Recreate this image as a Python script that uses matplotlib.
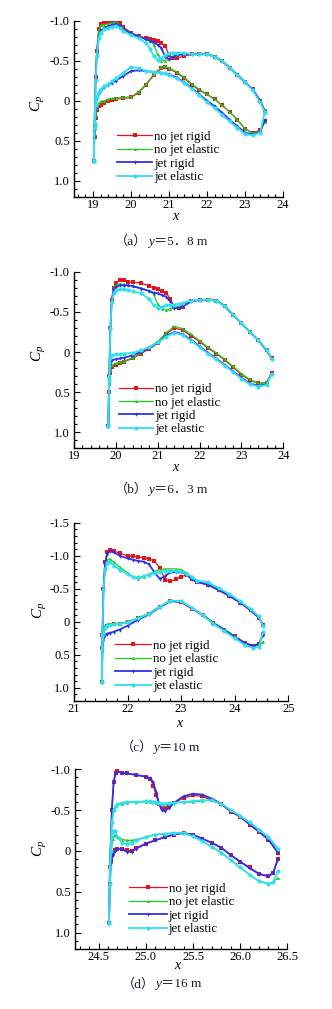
import numpy as np
import matplotlib
matplotlib.use("Agg")
import matplotlib.pyplot as plt
from matplotlib.ticker import MultipleLocator, FuncFormatter

plt.rcParams['font.family'] = ['Liberation Serif', 'Noto Sans CJK SC']
plt.rcParams['mathtext.fontset'] = 'custom'
plt.rcParams['mathtext.it'] = 'Liberation Serif:italic'
plt.rcParams['mathtext.rm'] = 'Liberation Serif'
plt.rcParams['axes.unicode_minus'] = False

names = ["no jet rigid", "no jet elastic", "jet rigid", "jet elastic"]
colors = ["#e3141c", "#1ccc1c", "#3030e8", "#30e0f0"]
markers = ["s", "^", "d", "o"]

# ---- (a) y = 5.8 m ----
xu_a = [19.02, 19.04, 19.07, 19.1, 19.15, 19.2, 19.3, 19.4, 19.5, 19.6, 19.7, 19.8,
        20.0, 20.2, 20.4, 20.5, 20.6, 20.7, 20.8, 20.9, 21.0, 21.1, 21.2, 21.4, 21.6,
        21.8, 22.0, 22.2, 22.4, 22.6, 22.8, 23.0, 23.2, 23.4, 23.52]
cpu_a = [
    [0.76, 0.30, -0.30, -0.62, -0.90, -0.96, -0.97, -0.98, -1.00, -1.00, -0.97, -0.92,
     -0.85, -0.81, -0.78, -0.77, -0.76, -0.74, -0.72, -0.68, -0.57, -0.53, -0.53, -0.56,
     -0.58, -0.58, -0.58, -0.55, -0.49, -0.41, -0.32, -0.23, -0.14, 0.00, 0.13],
    [0.76, 0.30, -0.28, -0.60, -0.88, -0.94, -0.95, -0.96, -0.97, -0.98, -0.95, -0.91,
     -0.84, -0.80, -0.77, -0.75, -0.70, -0.58, -0.50, -0.50, -0.52, -0.55, -0.57, -0.58,
     -0.59, -0.59, -0.59, -0.56, -0.50, -0.42, -0.33, -0.24, -0.14, 0.00, 0.12],
    [0.76, 0.28, -0.28, -0.58, -0.80, -0.87, -0.91, -0.93, -0.95, -0.96, -0.94, -0.90,
     -0.84, -0.80, -0.77, -0.75, -0.73, -0.70, -0.66, -0.55, -0.52, -0.55, -0.57, -0.58,
     -0.58, -0.58, -0.58, -0.55, -0.49, -0.41, -0.32, -0.23, -0.14, 0.00, 0.13],
    [0.76, 0.28, -0.26, -0.56, -0.78, -0.85, -0.89, -0.91, -0.92, -0.93, -0.91, -0.87,
     -0.82, -0.78, -0.72, -0.65, -0.56, -0.51, -0.53, -0.57, -0.59, -0.60, -0.60, -0.60,
     -0.58, -0.58, -0.58, -0.55, -0.49, -0.41, -0.32, -0.23, -0.13, 0.02, 0.14],
]
xl_a = [19.02, 19.04, 19.07, 19.1, 19.15, 19.2, 19.3, 19.4, 19.5, 19.6, 19.8, 20.0,
        20.2, 20.4, 20.6, 20.8, 20.9, 21.0, 21.2, 21.4, 21.6, 21.8, 22.0, 22.2, 22.4,
        22.6, 22.8, 23.0, 23.2, 23.4, 23.52]
cpl_a = [
    [0.76, 0.45, 0.22, 0.12, 0.07, 0.05, 0.03, 0.01, -0.01, -0.02, -0.03, -0.04, -0.10,
     -0.20, -0.32, -0.41, -0.42, -0.40, -0.35, -0.28, -0.20, -0.13, -0.08, -0.02, 0.06,
     0.14, 0.24, 0.35, 0.40, 0.37, 0.25],
    [0.76, 0.42, 0.18, 0.08, 0.03, 0.01, 0.00, -0.02, -0.03, -0.03, -0.04, -0.05, -0.11,
     -0.21, -0.33, -0.42, -0.43, -0.41, -0.36, -0.29, -0.21, -0.14, -0.08, -0.02, 0.06,
     0.14, 0.24, 0.35, 0.41, 0.38, 0.27],
    [0.76, 0.35, 0.08, -0.03, -0.10, -0.13, -0.17, -0.20, -0.22, -0.25, -0.31, -0.37,
     -0.38, -0.37, -0.36, -0.35, -0.34, -0.33, -0.29, -0.23, -0.16, -0.08, 0.00, 0.07,
     0.15, 0.24, 0.32, 0.40, 0.42, 0.39, 0.24],
    [0.76, 0.33, 0.06, -0.04, -0.11, -0.14, -0.18, -0.21, -0.24, -0.28, -0.35, -0.42,
     -0.41, -0.37, -0.36, -0.35, -0.34, -0.32, -0.28, -0.22, -0.15, -0.07, 0.02, 0.09,
     0.18, 0.26, 0.34, 0.42, 0.43, 0.40, 0.14],
]

# ---- (b) y = 6.3 m ----
xu_b = [19.82, 19.84, 19.87, 19.9, 19.95, 20.0, 20.1, 20.2, 20.3, 20.4, 20.6, 20.8,
        20.9, 21.0, 21.1, 21.2, 21.3, 21.4, 21.5, 21.6, 21.8, 22.0, 22.2, 22.4, 22.6,
        22.8, 23.0, 23.2, 23.4, 23.6, 23.72]
cpu_b = [
    [0.92, 0.30, -0.30, -0.65, -0.80, -0.86, -0.90, -0.90, -0.87, -0.87, -0.86, -0.82,
     -0.80, -0.78, -0.76, -0.74, -0.66, -0.56, -0.55, -0.56, -0.63, -0.65, -0.65, -0.64,
     -0.57, -0.46, -0.36, -0.25, -0.15, -0.02, 0.07],
    [0.92, 0.30, -0.30, -0.65, -0.80, -0.83, -0.85, -0.84, -0.83, -0.82, -0.80, -0.76,
     -0.72, -0.60, -0.54, -0.52, -0.54, -0.56, -0.57, -0.59, -0.63, -0.65, -0.66, -0.65,
     -0.58, -0.47, -0.36, -0.25, -0.15, -0.02, 0.08],
    [0.92, 0.30, -0.30, -0.64, -0.78, -0.81, -0.83, -0.83, -0.83, -0.82, -0.79, -0.76,
     -0.74, -0.73, -0.71, -0.69, -0.63, -0.55, -0.55, -0.57, -0.63, -0.65, -0.65, -0.64,
     -0.57, -0.46, -0.36, -0.25, -0.15, -0.02, 0.08],
    [0.92, 0.30, -0.30, -0.62, -0.74, -0.77, -0.78, -0.78, -0.77, -0.76, -0.73, -0.66,
     -0.58, -0.55, -0.56, -0.58, -0.59, -0.59, -0.60, -0.61, -0.64, -0.65, -0.65, -0.64,
     -0.57, -0.46, -0.36, -0.25, -0.15, -0.03, 0.09],
]
xl_b = [19.82, 19.84, 19.87, 19.9, 20.0, 20.1, 20.2, 20.4, 20.6, 20.8, 21.0, 21.2, 21.4,
        21.6, 21.8, 22.0, 22.2, 22.4, 22.6, 22.8, 23.0, 23.2, 23.4, 23.6, 23.72]
cpl_b = [
    [0.92, 0.50, 0.26, 0.19, 0.16, 0.14, 0.12, 0.08, 0.02, -0.04, -0.11, -0.22, -0.30,
     -0.27, -0.20, -0.13, -0.05, 0.02, 0.10, 0.19, 0.28, 0.35, 0.39, 0.38, 0.26],
    [0.92, 0.48, 0.22, 0.16, 0.14, 0.13, 0.11, 0.07, 0.01, -0.06, -0.13, -0.24, -0.32,
     -0.29, -0.22, -0.14, -0.06, 0.01, 0.09, 0.18, 0.27, 0.34, 0.39, 0.38, 0.27],
    [0.92, 0.40, 0.15, 0.10, 0.09, 0.08, 0.07, 0.04, 0.00, -0.05, -0.12, -0.20, -0.25,
     -0.22, -0.15, -0.07, 0.01, 0.08, 0.16, 0.24, 0.32, 0.39, 0.42, 0.40, 0.27],
    [0.92, 0.35, 0.08, 0.04, 0.03, 0.03, 0.02, 0.01, -0.02, -0.06, -0.12, -0.19, -0.24,
     -0.21, -0.14, -0.06, 0.02, 0.09, 0.17, 0.25, 0.33, 0.40, 0.43, 0.41, 0.27],
]

# ---- (c) y = 10 m ----
xu_c = [21.52, 21.53, 21.55, 21.58, 21.62, 21.67, 21.75, 21.85, 22.0, 22.1, 22.2, 22.3,
        22.4, 22.5, 22.6, 22.7, 22.8, 22.9, 23.0, 23.1, 23.2, 23.3, 23.5, 23.7, 23.9,
        24.1, 24.3, 24.45, 24.53]
cpu_c = [
    [0.91, 0.20, -0.50, -0.90, -1.05, -1.09, -1.07, -1.04, -1.00, -0.99, -0.98, -0.97,
     -0.95, -0.92, -0.82, -0.63, -0.61, -0.64, -0.68, -0.71, -0.64, -0.60, -0.56, -0.48,
     -0.39, -0.29, -0.17, -0.06, 0.05],
    [0.91, 0.20, -0.50, -0.85, -0.94, -0.95, -0.90, -0.83, -0.74, -0.68, -0.65, -0.68,
     -0.72, -0.76, -0.79, -0.80, -0.80, -0.80, -0.79, -0.74, -0.66, -0.61, -0.57, -0.49,
     -0.40, -0.30, -0.18, -0.07, 0.06],
    [0.91, 0.20, -0.50, -0.88, -1.03, -1.07, -1.05, -1.00, -0.96, -0.94, -0.92, -0.91,
     -0.87, -0.75, -0.65, -0.69, -0.75, -0.75, -0.75, -0.72, -0.64, -0.60, -0.56, -0.48,
     -0.39, -0.29, -0.17, -0.06, 0.05],
    [0.91, 0.20, -0.48, -0.80, -0.89, -0.90, -0.85, -0.79, -0.72, -0.68, -0.67, -0.69,
     -0.71, -0.74, -0.76, -0.77, -0.77, -0.77, -0.76, -0.73, -0.68, -0.62, -0.60, -0.51,
     -0.42, -0.31, -0.19, -0.08, 0.07],
]
xl_c = [21.52, 21.53, 21.55, 21.58, 21.62, 21.67, 21.75, 21.85, 22.0, 22.2, 22.4, 22.6,
        22.8, 23.0, 23.2, 23.4, 23.6, 23.8, 24.0, 24.2, 24.35, 24.45, 24.53]
cpl_c = [
    [0.91, 0.40, 0.20, 0.10, 0.07, 0.05, 0.04, 0.03, 0.01, -0.05, -0.12, -0.22, -0.31,
     -0.30, -0.20, -0.10, 0.02, 0.12, 0.22, 0.32, 0.37, 0.34, 0.18],
    [0.91, 0.38, 0.15, 0.06, 0.04, 0.03, 0.03, 0.02, 0.00, -0.06, -0.13, -0.23, -0.32,
     -0.31, -0.21, -0.11, 0.01, 0.11, 0.22, 0.32, 0.38, 0.36, 0.30],
    [0.91, 0.45, 0.27, 0.20, 0.18, 0.17, 0.15, 0.12, 0.06, -0.03, -0.11, -0.22, -0.31,
     -0.30, -0.20, -0.10, 0.02, 0.12, 0.23, 0.33, 0.37, 0.33, 0.20],
    [0.91, 0.40, 0.18, 0.09, 0.06, 0.05, 0.04, 0.03, 0.01, -0.05, -0.12, -0.23, -0.32,
     -0.31, -0.21, -0.10, 0.03, 0.14, 0.25, 0.36, 0.40, 0.38, 0.15],
]

# ---- (d) y = 16 m ----
xu_d = [24.61, 24.62, 24.64, 24.66, 24.68, 24.7, 24.75, 24.8, 24.9, 25.0, 25.05, 25.08,
        25.11, 25.14, 25.17, 25.2, 25.25, 25.3, 25.4, 25.5, 25.6, 25.7, 25.8, 25.9, 26.0,
        26.1, 26.2, 26.3, 26.4]
cpu_d = [
    [0.88, 0.20, -0.50, -0.85, -0.96, -0.98, -0.96, -0.95, -0.93, -0.91, -0.88, -0.80,
     -0.68, -0.58, -0.54, -0.53, -0.55, -0.59, -0.65, -0.68, -0.67, -0.62, -0.57, -0.48,
     -0.42, -0.32, -0.23, -0.14, 0.02],
    [0.88, 0.20, -0.35, -0.50, -0.55, -0.56, -0.58, -0.59, -0.60, -0.60, -0.60, -0.60,
     -0.59, -0.58, -0.57, -0.57, -0.58, -0.59, -0.60, -0.60, -0.61, -0.63, -0.58, -0.50,
     -0.43, -0.35, -0.26, -0.17, -0.03],
    [0.88, 0.20, -0.50, -0.85, -0.95, -0.97, -0.96, -0.95, -0.93, -0.91, -0.89, -0.84,
     -0.72, -0.58, -0.50, -0.49, -0.53, -0.59, -0.67, -0.70, -0.69, -0.64, -0.58, -0.49,
     -0.42, -0.33, -0.24, -0.14, 0.02],
    [0.88, 0.20, -0.35, -0.50, -0.55, -0.57, -0.59, -0.60, -0.60, -0.61, -0.61, -0.60,
     -0.60, -0.59, -0.58, -0.58, -0.59, -0.59, -0.60, -0.61, -0.62, -0.62, -0.58, -0.50,
     -0.43, -0.35, -0.26, -0.17, -0.03],
]
xl_d = [24.61, 24.62, 24.63, 24.65, 24.67, 24.7, 24.75, 24.8, 24.85, 24.9, 25.0, 25.1,
        25.2, 25.3, 25.4, 25.5, 25.6, 25.7, 25.8, 25.9, 26.0, 26.1, 26.2, 26.3, 26.35, 26.4]
cpl_d = [
    [0.88, 0.40, 0.12, 0.03, -0.01, -0.03, -0.03, -0.01, 0.00, -0.04, -0.09, -0.13,
     -0.17, -0.20, -0.22, -0.20, -0.15, -0.10, -0.04, 0.05, 0.13, 0.20, 0.28, 0.31,
     0.27, 0.10],
    [0.88, 0.40, 0.05, -0.15, -0.20, -0.18, -0.14, -0.13, -0.13, -0.14, -0.17, -0.20,
     -0.21, -0.22, -0.22, -0.18, -0.12, -0.05, 0.02, 0.11, 0.20, 0.29, 0.37, 0.40,
     0.38, 0.33],
    [0.88, 0.42, 0.15, 0.05, 0.00, -0.03, -0.02, 0.01, 0.01, -0.03, -0.09, -0.13,
     -0.17, -0.20, -0.22, -0.20, -0.15, -0.10, -0.04, 0.05, 0.13, 0.21, 0.28, 0.31,
     0.27, 0.10],
    [0.88, 0.40, 0.00, -0.25, -0.24, -0.17, -0.10, -0.09, -0.10, -0.13, -0.17, -0.20,
     -0.21, -0.22, -0.22, -0.18, -0.12, -0.05, 0.02, 0.11, 0.20, 0.29, 0.37, 0.40,
     0.38, 0.25],
]

W, H = 332, 1009
fig = plt.figure(figsize=(W / 100, H / 100), dpi=100)

# axes boxes in pixels: left, right, top, bottom
panels = [
    dict(box=(74, 283, 20.7, 196.7), xlim=(18.5, 24), ylim=(1.2, -1.0), xmaj=1, xmin=0.2,
         xfmt="%d", up=(xu_a, cpu_a), lo=(xl_a, cpl_a), leg=(0.206, 0.225), hl=2.7,
         cp=(-0.172, 0.532), xl=(0.488, -0.11), cap=("a", "5．8", 164, 245)),
    dict(box=(74, 283.3, 271.7, 448.4), xlim=(19, 24), ylim=(1.2, -1.0), xmaj=1, xmin=0.2,
         xfmt="%d", up=(xu_b, cpu_b), lo=(xl_b, cpl_b), leg=(0.215, 0.222), hl=2.6,
         cp=(-0.168, 0.537), xl=(0.488, -0.11), cap=("b", "6．3", 164, 492.7)),
    dict(box=(74, 288.3, 522.7, 700.9), xlim=(21, 25), ylim=(1.2, -1.5), xmaj=1, xmin=0.2,
         xfmt="%d", up=(xu_c, cpu_c), lo=(xl_c, cpl_c), leg=(0.191, 0.195), hl=2.8,
         cp=(-0.159, 0.51), xl=(0.495, -0.125), cap=("c", "10", 163, 750.7)),
    dict(box=(75, 287.3, 769.3, 949), xlim=(24.25, 26.5), ylim=(1.2, -1.0), xmaj=0.5,
         xmin=0.1, xfmt="%.1f", up=(xu_d, cpu_d), lo=(xl_d, cpl_d), leg=(0.254, 0.223),
         hl=2.9, cp=(-0.165, 0.562), xl=(0.487, -0.09), cap=("d", "16", 164.5, 987.3)),
]


def yfmt(v, pos):
    if abs(v) < 1e-9:
        return "0"
    return "%.1f" % v


caps = []
for p in panels:
    l, r, t, b = p["box"]
    ax = fig.add_axes([l / W, 1 - b / H, (r - l) / W, (b - t) / H])
    xs_u, cps_u = p["up"]
    xs_l, cps_l = p["lo"]
    for i in range(4):
        lw = 1.3 if i >= 2 else 0.9
        ms = 3.0 if i == 3 else 2.2
        ax.plot(xs_u, cps_u[i], color=colors[i], lw=lw, marker=markers[i], ms=ms,
                mew=0, label=names[i], zorder=2 + i)
        ax.plot(xs_l, cps_l[i], color=colors[i], lw=lw, marker=markers[i], ms=ms,
                mew=0, zorder=2 + i)
    ax.set_xlim(*p["xlim"])
    ax.set_ylim(*p["ylim"])
    ax.xaxis.set_major_locator(MultipleLocator(p["xmaj"]))
    ax.xaxis.set_minor_locator(MultipleLocator(p["xmin"]))
    ax.yaxis.set_major_locator(MultipleLocator(0.5))
    ax.yaxis.set_minor_locator(MultipleLocator(0.1))
    fmt = p["xfmt"]
    ax.xaxis.set_major_formatter(FuncFormatter(lambda v, pos, f=fmt: f % v))
    ax.yaxis.set_major_formatter(FuncFormatter(yfmt))
    for s in ("top", "right"):
        ax.spines[s].set_visible(False)
    for s in ("left", "bottom"):
        ax.spines[s].set_linewidth(1.0)
    ax.tick_params(which="both", direction="in", top=False, right=False, width=0.8,
                   labelsize=9)
    ax.tick_params(which="major", length=4)
    ax.tick_params(which="minor", length=2)
    ax.tick_params(axis="y", pad=3)
    ax.tick_params(axis="x", pad=1.5)
    ax.text(p["cp"][0], p["cp"][1], "$C_p$", transform=ax.transAxes, rotation=90,
            ha="center", va="center", fontsize=11)
    ax.text(p["xl"][0], p["xl"][1], "$x$", transform=ax.transAxes, ha="center",
            va="center", fontsize=10)
    ax.legend(loc="center left", bbox_to_anchor=p["leg"], frameon=False, fontsize=9.4,
              borderpad=0, borderaxespad=0, handlelength=p["hl"], handletextpad=0.15,
              labelspacing=0.1)
    caps.append(p["cap"])

# captions: "（a） y＝5．8 m" built from pieces so y can be italic
fig.canvas.draw()
renderer = fig.canvas.get_renderer()
for letter, val, cx, base in caps:
    pieces = [("（%s）" % letter, "normal"), ("y", "italic"), ("＝%s m" % val, "normal")]
    texts = [fig.text(0, 1 - base / H, s, fontsize=9.5, style=st, ha="left",
                      va="baseline", color="#1a1a38") for s, st in pieces]
    widths = [tx.get_window_extent(renderer).width for tx in texts]
    x0 = cx - sum(widths) / 2 - 3
    for tx, w in zip(texts, widths):
        tx.set_x(x0 / W)
        x0 += w

fig.savefig("out.png", dpi=100)
